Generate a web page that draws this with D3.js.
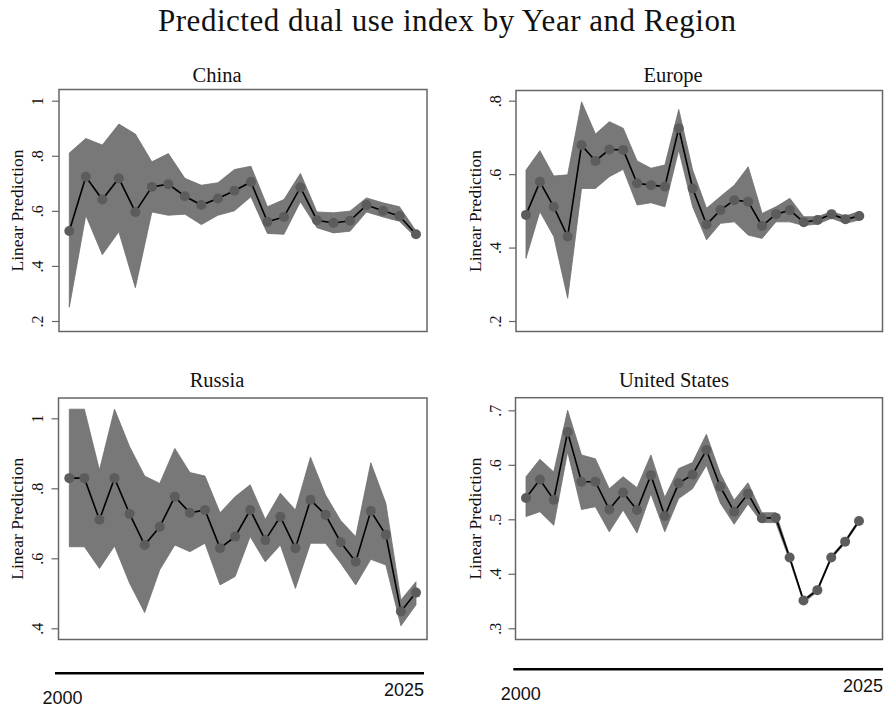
<!DOCTYPE html>
<html>
<head>
<meta charset="utf-8">
<script src="https://cdn.jsdelivr.net/npm/d3@7"></script>
<style>
  body { margin: 0; background: #fff; }
  text { font-family: "Liberation Serif", "DejaVu Serif", serif; fill: #111; }
</style>
</head>
<body>
<div id="chart"></div>
<script>
// values
const chinaYears = [2004, 2005, 2006, 2007, 2008, 2009, 2010, 2011, 2012, 2013, 2014, 2015, 2016, 2017, 2018, 2019, 2020, 2021, 2022, 2023, 2024, 2025];
const chinaFit = [0.527, 0.724, 0.641, 0.718, 0.596, 0.687, 0.697, 0.653, 0.621, 0.645, 0.673, 0.705, 0.560, 0.578, 0.685, 0.566, 0.556, 0.564, 0.621, 0.600, 0.581, 0.515];
const chinaLo = [0.250, 0.584, 0.441, 0.524, 0.321, 0.596, 0.584, 0.588, 0.550, 0.584, 0.600, 0.651, 0.518, 0.515, 0.633, 0.539, 0.520, 0.526, 0.596, 0.578, 0.562, 0.503];
const chinaHi = [0.810, 0.863, 0.839, 0.915, 0.879, 0.778, 0.808, 0.718, 0.693, 0.702, 0.750, 0.762, 0.615, 0.641, 0.736, 0.596, 0.593, 0.599, 0.647, 0.629, 0.615, 0.527];
const chinaTicks = [0.2, 0.4, 0.6, 0.8, 1];

const europeYears = [2001, 2002, 2003, 2004, 2005, 2006, 2007, 2008, 2009, 2010, 2011, 2012, 2013, 2014, 2015, 2016, 2017, 2018, 2019, 2020, 2021, 2022, 2023, 2024, 2025];
const europeFit = [0.489, 0.579, 0.511, 0.430, 0.679, 0.636, 0.667, 0.666, 0.575, 0.570, 0.566, 0.725, 0.561, 0.463, 0.502, 0.529, 0.525, 0.459, 0.491, 0.502, 0.469, 0.475, 0.491, 0.477, 0.486];
const europeLo = [0.371, 0.498, 0.430, 0.262, 0.561, 0.561, 0.593, 0.613, 0.516, 0.522, 0.511, 0.666, 0.511, 0.421, 0.466, 0.470, 0.434, 0.425, 0.470, 0.470, 0.460, 0.464, 0.480, 0.466, 0.475];
const europeHi = [0.611, 0.664, 0.595, 0.598, 0.797, 0.709, 0.743, 0.725, 0.636, 0.616, 0.625, 0.776, 0.611, 0.507, 0.539, 0.570, 0.620, 0.493, 0.511, 0.534, 0.484, 0.484, 0.498, 0.486, 0.498];
const europeTicks = [0.2, 0.4, 0.6, 0.8];

const russiaYears = [2002, 2003, 2004, 2005, 2006, 2007, 2008, 2009, 2010, 2011, 2012, 2013, 2014, 2015, 2016, 2017, 2018, 2019, 2020, 2021, 2022, 2023, 2024, 2025];
const russiaFit = [0.829, 0.829, 0.710, 0.829, 0.727, 0.638, 0.690, 0.776, 0.730, 0.738, 0.629, 0.662, 0.738, 0.652, 0.719, 0.629, 0.767, 0.724, 0.646, 0.590, 0.735, 0.667, 0.448, 0.502];
const russiaLo = [0.633, 0.633, 0.571, 0.635, 0.529, 0.445, 0.567, 0.638, 0.619, 0.643, 0.524, 0.548, 0.662, 0.590, 0.638, 0.514, 0.643, 0.643, 0.586, 0.524, 0.597, 0.581, 0.407, 0.467];
const russiaHi = [1.026, 1.026, 0.852, 1.026, 0.919, 0.835, 0.814, 0.914, 0.845, 0.835, 0.730, 0.776, 0.810, 0.711, 0.786, 0.738, 0.889, 0.781, 0.708, 0.662, 0.873, 0.757, 0.481, 0.533];
const russiaTicks = [0.4, 0.6, 0.8, 1];

const usYears = [2001, 2002, 2003, 2004, 2005, 2006, 2007, 2008, 2009, 2010, 2011, 2012, 2013, 2014, 2015, 2016, 2017, 2018, 2019, 2020, 2021, 2022, 2023, 2024, 2025];
const usFit = [0.539, 0.573, 0.536, 0.660, 0.569, 0.569, 0.518, 0.549, 0.517, 0.581, 0.506, 0.566, 0.582, 0.627, 0.560, 0.514, 0.547, 0.502, 0.503, 0.430, 0.351, 0.370, 0.430, 0.459, 0.497];
const usLo = [0.505, 0.514, 0.489, 0.624, 0.518, 0.523, 0.477, 0.517, 0.475, 0.547, 0.477, 0.538, 0.556, 0.599, 0.530, 0.491, 0.528, 0.494, 0.494, 0.425, 0.347, 0.367, 0.427, 0.456, 0.494];
const usHi = [0.578, 0.610, 0.587, 0.700, 0.618, 0.611, 0.556, 0.578, 0.558, 0.618, 0.540, 0.593, 0.604, 0.656, 0.584, 0.535, 0.567, 0.512, 0.512, 0.434, 0.353, 0.373, 0.433, 0.462, 0.500];
const usTicks = [0.3, 0.4, 0.5, 0.6, 0.7];

const yearLabels = [2000, 2025];

// layout (pixels)
const panels = [
  { name: 'China', years: chinaYears, fit: chinaFit, lo: chinaLo, hi: chinaHi, ticks: chinaTicks,
    box: [59, 89.5, 427, 331.5], xPx: [69.3, 416], yPx: [321, 100.7], titleX: 217, titleY: 81.7, labX: 43, ttlX: 23 },
  { name: 'Europe', years: europeYears, fit: europeFit, lo: europeLo, hi: europeHi, ticks: europeTicks,
    box: [516, 90.5, 882.5, 331.5], xPx: [526, 859.3], yPx: [321, 100.7], titleX: 673, titleY: 81.7, labX: 501, ttlX: 481 },
  { name: 'Russia', years: russiaYears, fit: russiaFit, lo: russiaLo, hi: russiaHi, ticks: russiaTicks,
    box: [58.5, 398, 427, 639.5], xPx: [69.3, 416], yPx: [628.3, 418.3], titleX: 217, titleY: 386.7, labX: 43, ttlX: 23 },
  { name: 'United States', years: usYears, fit: usFit, lo: usLo, hi: usHi, ticks: usTicks,
    box: [515.5, 397.7, 882.5, 639.5], xPx: [526, 859], yPx: [628.3, 410.3], titleX: 674, titleY: 387, labX: 501, ttlX: 481 }
];

const bottomAxes = [
  { range: [55, 424], y: 673.3 },
  { range: [513.3, 883], y: 669.3 }
];

const fmt = v => String(v).replace(/^0\./, '.');

const svg = d3.select('#chart')
  .append('svg')
  .attr('width', 884)
  .attr('height', 709);

svg.append('rect').attr('width', 884).attr('height', 709).attr('fill', '#fff');

svg.append('text')
  .attr('x', 447)
  .attr('y', 31)
  .attr('text-anchor', 'middle')
  .attr('font-size', 31)
  .attr('textLength', 578)
  .attr('lengthAdjust', 'spacing')
  .text('Predicted dual use index by Year and Region');

panels.forEach(p => {
  const [x0, y0, x1, y1] = p.box;
  const x = d3.scaleLinear()
    .domain(d3.extent(p.years))
    .range(p.xPx);
  const y = d3.scaleLinear()
    .domain(d3.extent(p.ticks))
    .range(p.yPx);

  const rows = p.years.map((yr, i) => ({ yr: yr, fit: p.fit[i], lo: p.lo[i], hi: p.hi[i] }));

  svg.append('text')
    .attr('x', p.titleX)
    .attr('y', p.titleY)
    .attr('text-anchor', 'middle')
    .attr('font-size', 20.5)
    .text(p.name);

  svg.append('rect')
    .attr('x', x0).attr('y', y0)
    .attr('width', x1 - x0).attr('height', y1 - y0)
    .attr('fill', '#fff')
    .attr('stroke', '#666')
    .attr('stroke-width', 1.5);

  const area = d3.area()
    .x(d => x(d.yr))
    .y0(d => y(d.lo))
    .y1(d => y(d.hi));

  svg.append('path')
    .datum(rows)
    .attr('fill', '#787878')
    .attr('stroke', '#6e6e6e')
    .attr('stroke-width', 0.8)
    .attr('d', area);

  const line = d3.line()
    .x(d => x(d.yr))
    .y(d => y(d.fit));

  svg.append('path')
    .datum(rows)
    .attr('fill', 'none')
    .attr('stroke', '#000')
    .attr('stroke-width', 1.6)
    .attr('d', line);

  svg.append('g')
    .selectAll('circle')
    .data(rows)
    .join('circle')
    .attr('cx', d => x(d.yr))
    .attr('cy', d => y(d.fit))
    .attr('r', 5)
    .attr('fill', '#5c5c5c');

  // y axis
  const axis = svg.append('g')
    .attr('transform', 'translate(' + x0 + ',0)')
    .call(d3.axisLeft(y).tickValues(p.ticks).tickSize(7).tickFormat(fmt));
  axis.select('.domain').remove();
  axis.selectAll('line').attr('stroke', '#666').attr('stroke-width', 1.2);
  axis.selectAll('text')
    .attr('transform', 'rotate(-90)')
    .attr('x', 0)
    .attr('y', p.labX - x0)
    .attr('dy', 0)
    .attr('text-anchor', 'middle')
    .attr('font-family', '"Liberation Serif", serif')
    .attr('font-size', 16)
    .attr('fill', '#333');

  svg.append('text')
    .attr('transform', 'translate(' + p.ttlX + ',' + ((y0 + y1) / 2) + ') rotate(-90)')
    .attr('text-anchor', 'middle')
    .attr('font-size', 17.5)
    .attr('fill', '#333')
    .text('Linear Prediction');
});

// separate year axes under each column
bottomAxes.forEach(b => {
  const x = d3.scaleLinear().domain(d3.extent(yearLabels)).range(b.range);
  svg.append('path')
    .attr('d', d3.line()([[x(yearLabels[0]), b.y], [x(yearLabels[1]), b.y]]))
    .attr('stroke', '#000')
    .attr('stroke-width', 2.4);
  svg.append('text')
    .attr('x', x(yearLabels[0]) + 7.5)
    .attr('y', b.y + 30.5)
    .attr('text-anchor', 'middle')
    .style('font-family', '"Liberation Sans", Arial, sans-serif')
    .attr('font-size', 18)
    .text(yearLabels[0]);
  svg.append('text')
    .attr('x', x(yearLabels[1]))
    .attr('y', b.y + 22.5)
    .attr('text-anchor', 'end')
    .style('font-family', '"Liberation Sans", Arial, sans-serif')
    .attr('font-size', 18)
    .text(yearLabels[1]);
});
</script>
</body>
</html>
